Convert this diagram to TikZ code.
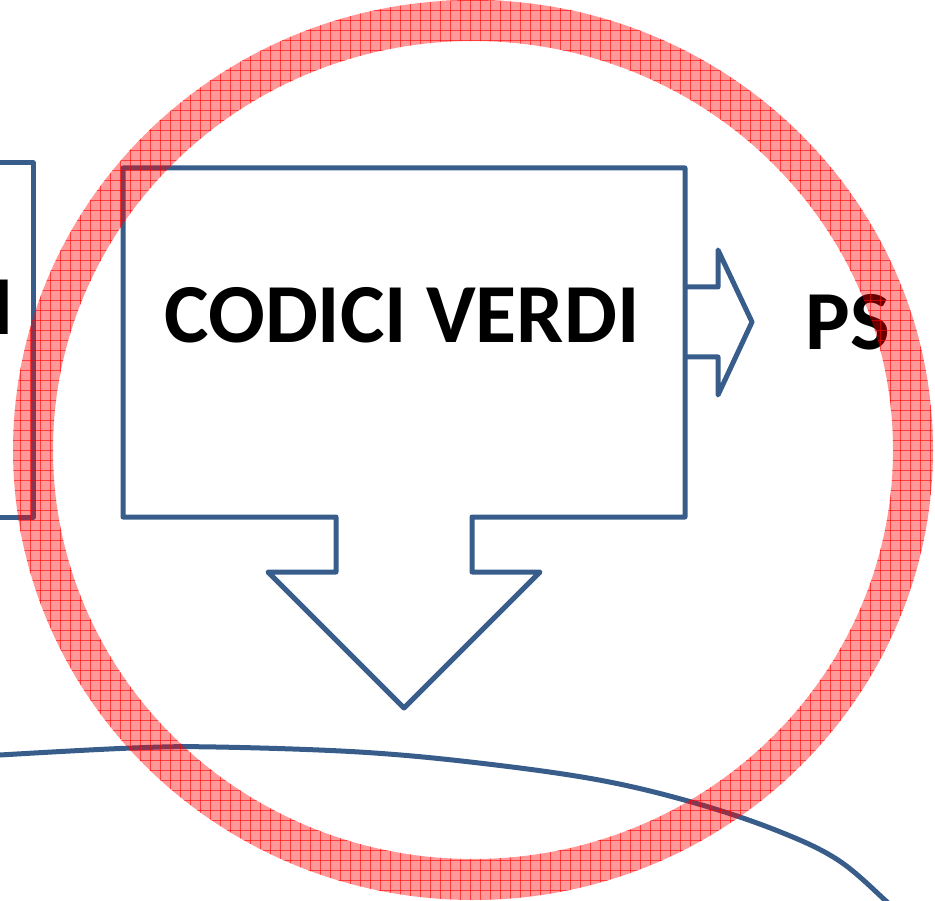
\documentclass[tikz,border=0pt]{standalone}
\usepackage{fontspec}
\setmainfont{Carlito}
\begin{document}
\begin{tikzpicture}[x=1pt,y=-1pt]
\definecolor{shapeblue}{RGB}{56,93,138}
\tikzset{
  outline/.style={draw=shapeblue, line width=5pt, line join=round},
  bigtext/.style={font=\bfseries\fontsize{84}{84}\selectfont, inner sep=0pt, anchor=base},
  ringfill/.style={fill=red, fill opacity=0.4},
  ringgrid/.style={draw=red, line width=0.7pt, opacity=0.6}
}
\useasboundingbox (0,0) rectangle (935,901);
\clip (0,0) rectangle (935,901);
% left box (partly off canvas)
\draw[outline] (-20,163) -- (33,163) -- (33,517) -- (-20,517);
\node[bigtext] (lefttext) at (3,335) {I};
% main callout box with down arrow
\draw[outline] (123,168) -- (685,168) -- (685,517) -- (472,517) -- (472,572) -- (540,572)
  -- (404,708) -- (268,572) -- (336,572) -- (336,517) -- (123,517) -- cycle;
\node[bigtext] (main) at (402,343) {CODICI VERDI};
% right arrow
\draw[outline] (685,287) -- (718,287) -- (718,250) -- (752,322) -- (718,395) -- (718,357) -- (685,357);
\node[bigtext] (ps) at (848,350) {PS};
% bottom curve
\draw[draw=shapeblue, line width=5pt] plot[smooth, tension=0.6] coordinates
  {(-20,757) (0,755) (132,748) (216,747) (359,752) (479,763) (599,780) (695,803) (778,831) (838,860) (886,901) (900,915)};
% red hatched ring
\begin{scope}[even odd rule]
  \clip (473,450) ellipse [x radius=460pt, y radius=450pt]
        (473,450) ellipse [x radius=420pt, y radius=409pt];
  \fill[ringfill] (0,0) rectangle (935,901);
  \foreach \i in {0,10,...,930} {\draw[ringgrid] (\i,0) -- (\i,901);}
  \foreach \j in {0,10,...,900} {\draw[ringgrid] (0,\j) -- (935,\j);}
\end{scope}
\end{tikzpicture}
\end{document}
